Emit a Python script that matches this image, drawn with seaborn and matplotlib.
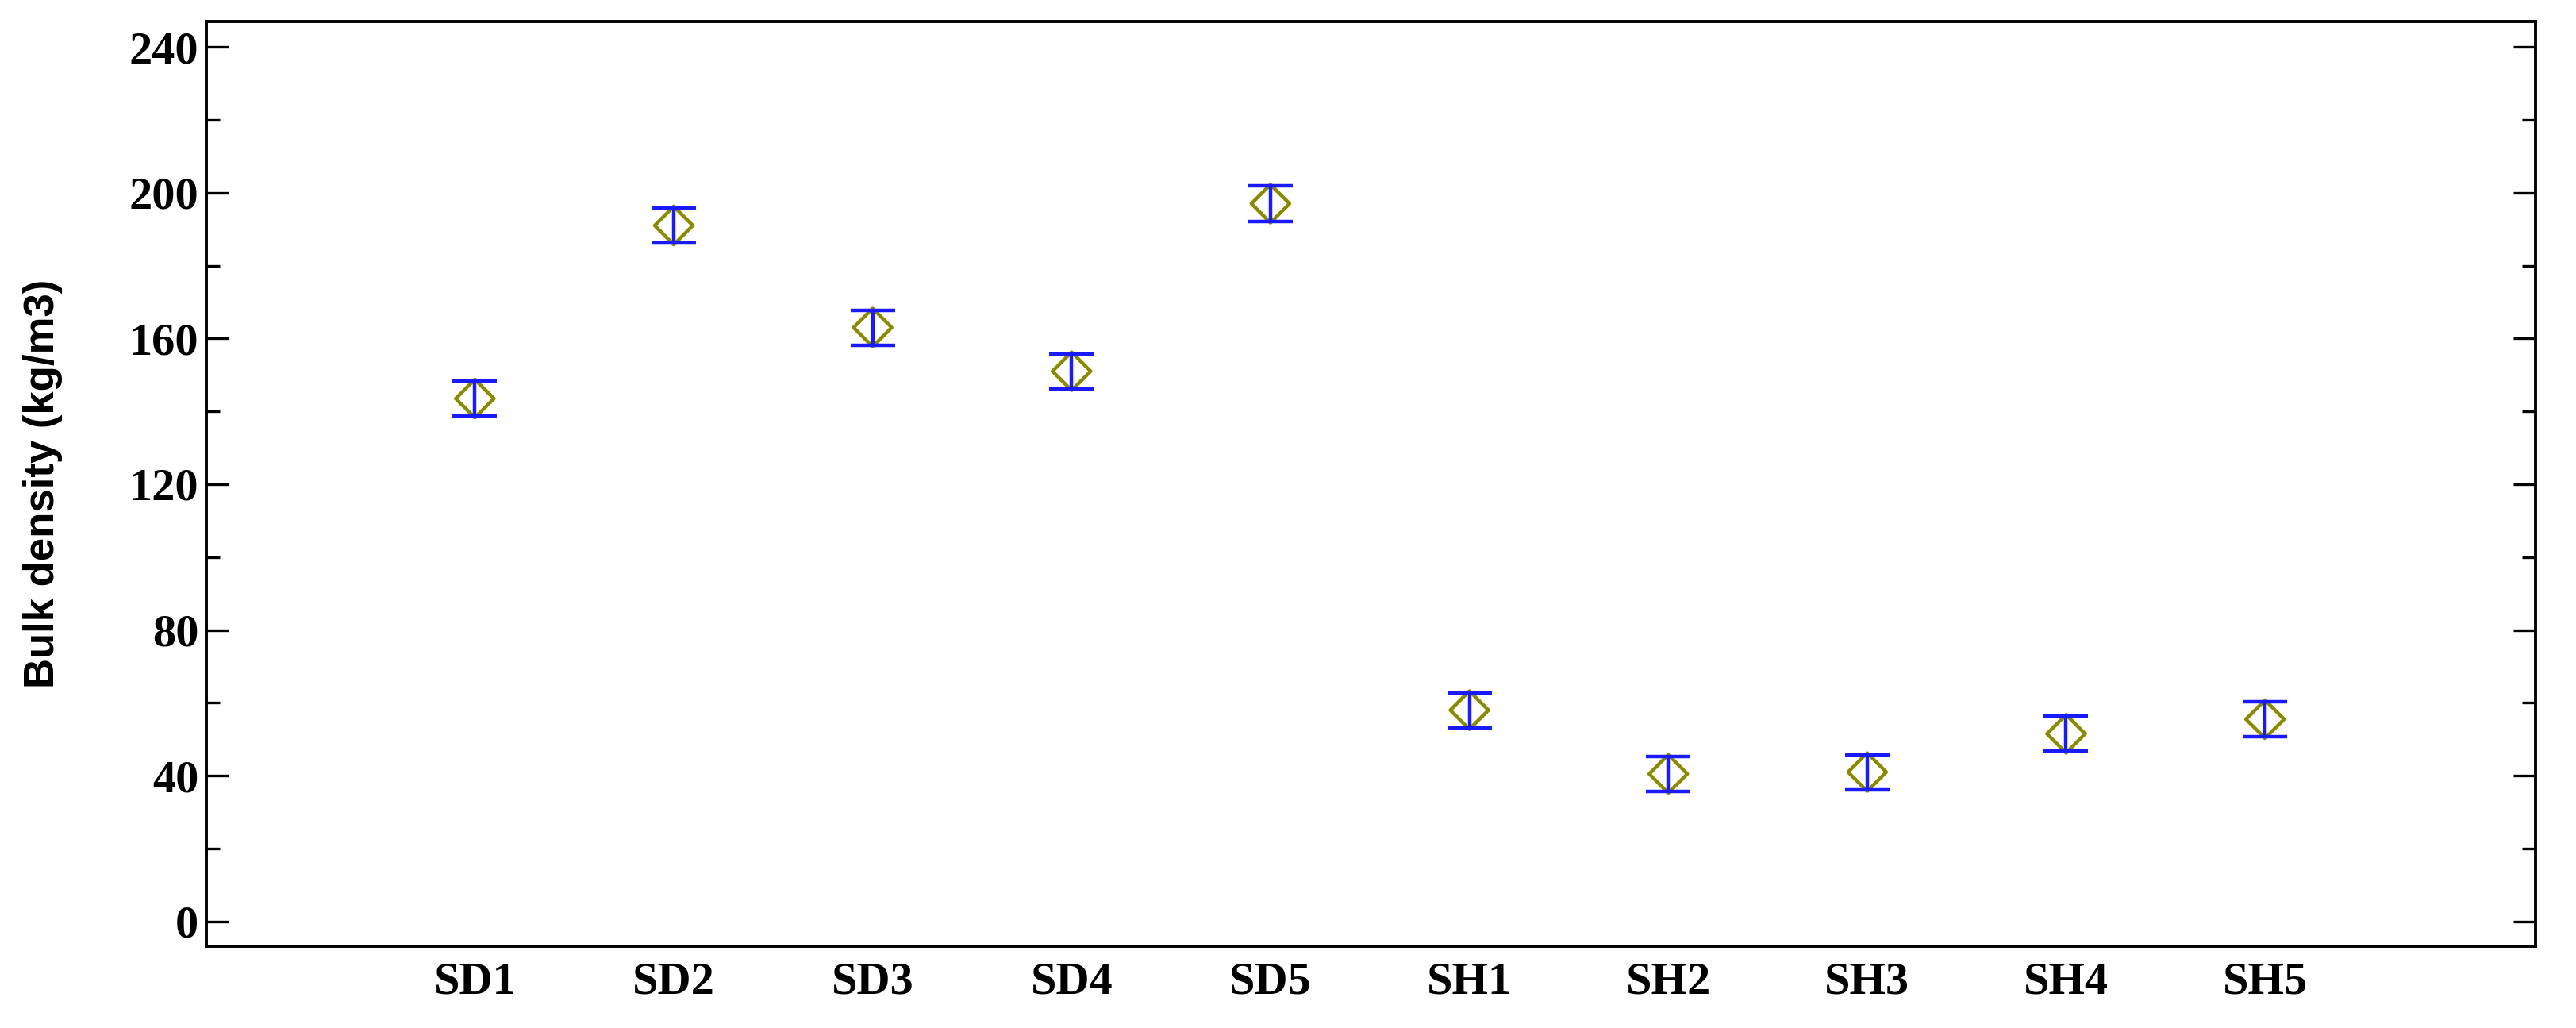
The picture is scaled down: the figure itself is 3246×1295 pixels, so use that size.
import matplotlib
matplotlib.use("Agg")
import matplotlib.pyplot as plt
import seaborn as sns
import numpy as np
import pandas as pd
from matplotlib.ticker import MultipleLocator

categories = ["SD1", "SD2", "SD3", "SD4", "SD5", "SH1", "SH2", "SH3", "SH4", "SH5"]
means = [143.5, 191.0, 163.0, 151.0, 197.0, 58.0, 40.5, 41.0, 51.5, 55.5]
errors = [4.8, 4.8, 4.8, 4.8, 4.8, 4.8, 4.8, 4.8, 4.8, 4.8]

sns.set_style("white")
df = pd.DataFrame({"pos": np.arange(len(categories)), "cat": categories, "mean": means, "err": errors})

fig = plt.figure(figsize=(16.23, 6.475), dpi=200)
ax = fig.add_axes([260/3246, 1 - 1192/1295, (3195-260)/3246, (1192-27)/1295])

ax.errorbar(df["pos"], df["mean"], yerr=df["err"], fmt="none", ecolor="#1a1aff",
            elinewidth=1.6, capsize=10, capthick=1.6, zorder=3)
sns.scatterplot(data=df, x="pos", y="mean", marker="D", s=150, facecolor="none",
                edgecolor="#8a8a00", linewidth=1.6, ax=ax, zorder=2)

ax.set_xlim(-1.35, 10.36)
ax.set_ylim(-6.8, 247)
ax.set_xticks(df["pos"])
ax.set_xticklabels(categories)
ax.yaxis.set_major_locator(MultipleLocator(40))
ax.yaxis.set_minor_locator(MultipleLocator(20))
ax.tick_params(axis="y", which="both", direction="in", left=True, right=True, length=10, width=1.2, colors="black")
ax.tick_params(axis="y", which="minor", length=6)
ax.tick_params(axis="x", bottom=False, colors="black")
for lab in ax.get_xticklabels() + ax.get_yticklabels():
    lab.set_fontfamily("Liberation Serif")
    lab.set_fontweight("bold")
    lab.set_fontsize(21)
    lab.set_color("black")
ax.set_xlabel("")
ax.set_ylabel("Bulk density (kg/m3)", fontfamily="Liberation Sans", fontweight="bold", fontsize=19,
              color="black", labelpad=30)
for s in ax.spines.values():
    s.set_linewidth(1.4)
    s.set_color("black")

fig.savefig("out.png", dpi=200)
